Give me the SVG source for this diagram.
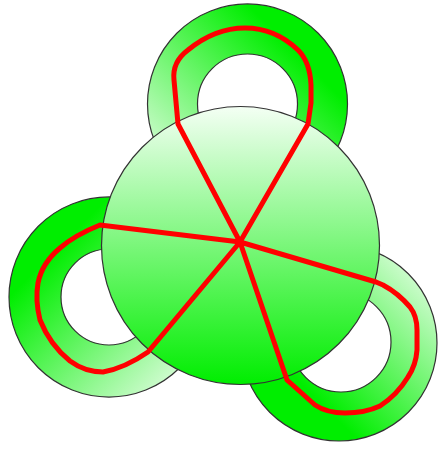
<svg xmlns="http://www.w3.org/2000/svg" width="439" height="450" viewBox="0 0 439 450">
<style>
.shape{stroke:#333;stroke-width:1.2;fill-rule:evenodd}
.loop{fill:none;stroke:#ff0000;stroke-width:5;stroke-linejoin:round;stroke-linecap:round}
</style>
<defs>
<linearGradient id="gTop" x1="0" y1="1" x2="1" y2="0"><stop offset="0" stop-color="#ffffff"/><stop offset="0.75" stop-color="#00ee00"/></linearGradient>
<linearGradient id="gLeft" x1="0" y1="0" x2="1" y2="1"><stop offset="0.25" stop-color="#00ee00"/><stop offset="1" stop-color="#ffffff"/></linearGradient>
<linearGradient id="gBR" x1="1" y1="0" x2="0" y2="1"><stop offset="0" stop-color="#ffffff"/><stop offset="0.7" stop-color="#00ee00"/></linearGradient>
<linearGradient id="gMain" x1="0" y1="0" x2="0" y2="1"><stop offset="0" stop-color="#f4fff4"/><stop offset="1" stop-color="#00ee00"/></linearGradient>
</defs>
<g id="ring-top"><path class="shape" fill="url(#gTop)" d="M147.5 104a100 100 0 1 0 200 0a100 100 0 1 0 -200 0ZM197.5 104a50 50 0 1 0 100 0a50 50 0 1 0 -100 0Z"/></g>
<g id="ring-left"><path class="shape" fill="url(#gLeft)" d="M9 297a100 100 0 1 0 200 0a100 100 0 1 0 -200 0ZM61 297a48 48 0 1 0 96 0a48 48 0 1 0 -96 0Z"/></g>
<g id="ring-br"><path class="shape" fill="url(#gBR)" d="M241 343a98 98 0 1 0 196 0a98 98 0 1 0 -196 0ZM291 342a50 50 0 1 0 100 0a50 50 0 1 0 -100 0Z"/></g>
<g id="main-circle"><circle class="shape" fill="url(#gMain)" cx="240.5" cy="245.5" r="139"/></g>
<g id="connectors">
<path class="loop" d="M240 242L178 124L174 80Q172 62 188 50Q215 28 245 28Q275 28 298 50Q310 62 311 85L311 103L308 124L240 242L376 282L383 285Q398 293 410 307Q417 316 417 330L417 350Q416 365 408 377Q397 395 380 406Q365 413 345 413Q327 413 315 405L287 380L240 242L148 352Q125 368 103 372Q85 372 70 361Q50 345 40 320Q35 300 38 283Q42 263 60 248Q75 235 100 225Z"/>
</g>
</svg>
